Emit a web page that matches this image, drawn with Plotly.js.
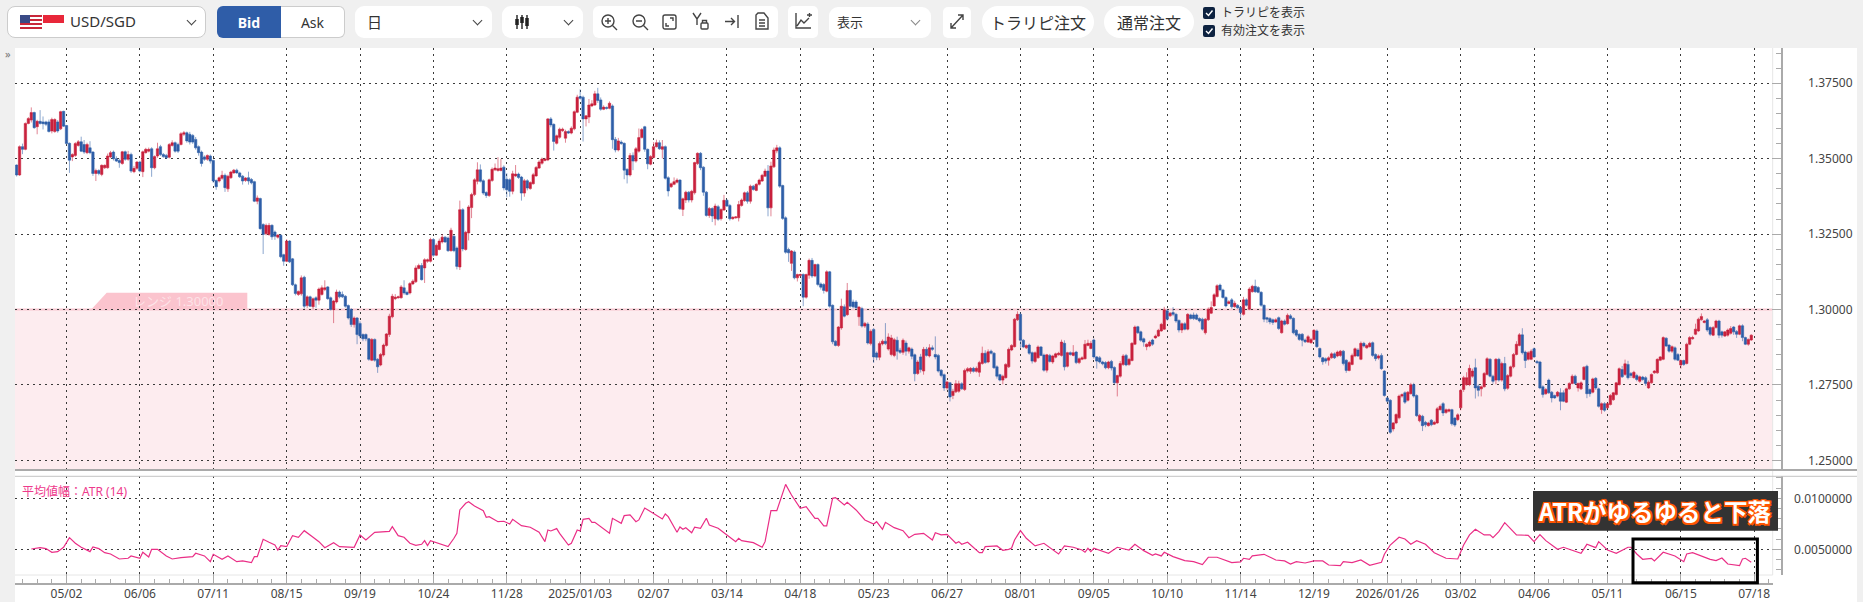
<!DOCTYPE html>
<html><head><meta charset="utf-8">
<script src="https://cdn.plot.ly/plotly-3.0.1.min.js"></script>
<style>
html,body{margin:0;padding:0;width:1863px;height:602px;overflow:hidden;background:#f0f0f0;font-family:"Noto Sans","Noto Sans CJK JP",sans-serif;color:#333}
#sheet{position:absolute;left:15px;top:48px;width:1842px;height:554px;background:#fff}
#chart{position:absolute;left:0;top:0;width:1863px;height:602px}
.b{position:absolute;background:#fff;box-sizing:border-box;display:flex;align-items:center;justify-content:center;white-space:nowrap}
.t{position:absolute;white-space:nowrap;line-height:1}
.chev{position:absolute;width:6px;height:6px;border-right:1.5px solid #444;border-bottom:1.5px solid #444;transform:rotate(45deg)}
svg.i{position:absolute;fill:none;stroke:#444;stroke-width:1.4}
.cb{position:absolute;width:12px;height:12px;background:#0d2240;border-radius:2px}
</style></head><body>
<div id="sheet"></div>
<div id="chart"></div>
<div class="t" style="left:5px;top:48px;font-size:11px;color:#777">»</div>

<div class="b" style="left:7px;top:6px;width:199px;height:32px;border:1px solid #ccc;border-radius:8px"></div>
<svg style="position:absolute;left:20px;top:15px" width="45" height="15">
 <rect x="0" y="0" width="22" height="14" fill="#fff"/>
 <g fill="#c8273a"><rect y="0" width="22" height="2"/><rect y="4" width="22" height="2"/><rect y="8" width="22" height="2"/><rect y="12" width="22" height="2"/></g>
 <rect x="0" y="0" width="10" height="8" fill="#3a4a86"/>
 <rect x="23" y="0" width="21" height="8" fill="#e8273a"/><rect x="23" y="8" width="21" height="0" fill="#fff"/>
</svg>
<div class="t" style="left:70px;top:14px;font-size:15px">USD/SGD</div>
<div class="chev" style="left:188px;top:17px"></div>

<div class="b" style="left:217px;top:6px;width:64px;height:32px;background:#2f5da8;color:#fff;font-weight:700;font-size:14px;border-radius:6px 0 0 6px">Bid</div>
<div class="b" style="left:281px;top:6px;width:64px;height:32px;border:1px solid #ccc;border-left:none;font-size:14px;border-radius:0 6px 6px 0">Ask</div>

<div class="b" style="left:355px;top:6px;width:137px;height:32px;border-radius:9px"></div>
<div class="t" style="left:367px;top:14px;font-size:15px;font-family:'Noto Sans CJK JP'">日</div>
<div class="chev" style="left:474px;top:17px"></div>

<div class="b" style="left:502px;top:6px;width:81px;height:32px;border-radius:9px"></div>
<svg class="i" style="left:514px;top:14px" width="16" height="16"><path d="M3 1V15M8 1V15M13 1V15" stroke="#222"/><path d="M3 5V11M8 3V9M13 4V12" stroke="#222" stroke-width="3.5"/></svg>
<div class="chev" style="left:565px;top:17px"></div>

<div class="b" style="left:593px;top:6px;width:185px;height:32px;border-radius:6px"></div>
<svg class="i" style="left:600px;top:13px" width="18" height="18"><circle cx="8" cy="8" r="6"/><path d="M12.5 12.5L17 17M5 8H11M8 5V11"/></svg>
<svg class="i" style="left:631px;top:13px" width="18" height="18"><circle cx="8" cy="8" r="6"/><path d="M12.5 12.5L17 17M5 8H11"/></svg>
<svg class="i" style="left:662px;top:13px" width="16" height="18"><rect x="1" y="2" width="13" height="14" rx="2"/><path d="M4 10V13H7M11 8V5H8"/></svg>
<svg class="i" style="left:692px;top:12px" width="18" height="19"><path d="M1 1L5 7L9 1M5 7V13"/><rect x="9" y="11" width="7" height="6" rx="1"/><path d="M10.5 11V8.5H14.5V11"/></svg>
<svg class="i" style="left:724px;top:14px" width="16" height="15"><path d="M1 7.5H10M7 4L10.5 7.5L7 11M14 1V14"/></svg>
<svg class="i" style="left:755px;top:12px" width="15" height="19"><path d="M1 3V17H13V6L9 1H3ZM4 8H10M4 11H10M4 14H10"/></svg>

<div class="b" style="left:788px;top:6px;width:30px;height:32px;border-radius:5px"></div>
<svg class="i" style="left:794px;top:12px" width="19" height="18"><path d="M2 1V16H17M3 14L7 8L10 11L15 6M13 3H18M15.5 1V5"/></svg>

<div class="b" style="left:829px;top:7px;width:102px;height:31px;border-radius:9px"></div>
<div class="t" style="left:837px;top:15px;font-size:13px;font-family:'Noto Sans CJK JP'">表示</div>
<div class="chev" style="left:912px;top:17px;border-color:#888"></div>

<div class="b" style="left:943px;top:7px;width:28px;height:31px;border-radius:5px"></div>
<svg class="i" style="left:949px;top:13px" width="16" height="17"><path d="M2 15L14 2M9 2H14V7M2 10V15H7"/></svg>

<div class="b" style="left:982px;top:6px;width:112px;height:32px;border-radius:16px;font-size:16px;font-family:'Noto Sans CJK JP'">トラリピ注文</div>
<div class="b" style="left:1104px;top:6px;width:90px;height:32px;border-radius:16px;font-size:16px;font-family:'Noto Sans CJK JP'">通常注文</div>

<div class="cb" style="left:1203px;top:7px"></div>
<svg style="position:absolute;left:1203px;top:7px" width="12" height="12"><path d="M3 6L5.5 8.5L9.5 3.5" fill="none" stroke="#fff" stroke-width="1.4"/></svg>
<div class="t" style="left:1221px;top:6px;font-size:12px;font-family:'Noto Sans CJK JP'">トラリピを表示</div>
<div class="cb" style="left:1203px;top:25px"></div>
<svg style="position:absolute;left:1203px;top:25px" width="12" height="12"><path d="M3 6L5.5 8.5L9.5 3.5" fill="none" stroke="#fff" stroke-width="1.4"/></svg>
<div class="t" style="left:1221px;top:24px;font-size:12px;font-family:'Noto Sans CJK JP'">有効注文を表示</div>

<script>
// Daily USD/SGD, values in pips (price x 10000). r = up candle, b = down candle.
const candleDirection =
 "brbrrrbrbb"+"bbrrbrbbbr"+"rrbbrbbrbr"+"rrrbbbrbrb"+"rrbrrrbrrb"+"bbrrbbrrbb"+"bbbbbrbbbr"+"rbrrrbbbrb"+"bbrbbrrbbr"+"bbrbbbrrbr"+
 "brbrrrbbrr"+"bbbbbrbbbb"+"brbbrrrrrr"+"rrbbrrrrbr"+"rrbrrrbbrb"+"brbrrrrrbb"+"brrrrrbbbr"+"rbbrbrrrrr"+"rrbbrrrrbr"+"rrbbrrrrbb"+
 "rbrbbrbbbr"+"brrrbbrrrb"+"rbbrrrbrrb"+"rrrbbbrbrb"+"rrbbrrrrrb"+"rbrrrrbrrr"+"bbbbrbrrbr"+"rbrbbbrbbb"+"rrbrbbbrbr"+"brbbrrbrrr"+
 "bbrbrbbrbr"+"brbbbbbrbr"+"rrbrrrbrrr"+"brbbbbrrrr"+"rrbbrbbrrb"+"brbrrrrbrb"+"rbrrrrrbbb"+"bbrbbrrrbr"+"rrbbbrrbrr"+"rrbrbbbrbr"+
 "bbbbbrrrrr"+"bbbrbrbbrb"+"rrbbbbbbbr"+"brbrbbbbbb"+"rrrbbbbrrb"+"rrbbrrrbrb"+"rrbbrbbbbr"+"rrrbrrbbrb"+"brbrrrbrrb"+"brrrrrrbbr"+
 "rrbbrbrbrr"+"rrrbbrrbbb"+"brbbbrbbrr"+"rbrrrbbrbb"+"rbrrrrrbrb"+"brbrbbrrrr"+"rrbbrbbrbr"+"rrrrrrbbrr"+"bbrrrbbrbb"+"rr";

const bodyTop = [
13479,13540,13540,13617,13633,13653,13653,13624,13624,13622,
13622,13622,13630,13630,13622,13656,13657,13610,13551,13514,
13550,13556,13556,13547,13547,13536,13522,13461,13461,13478,
13478,13509,13520,13522,13500,13494,13523,13523,13514,13514,
13468,13489,13489,13523,13531,13531,13533,13507,13533,13540,
13514,13511,13547,13553,13553,13547,13583,13586,13586,13581,
13577,13564,13540,13522,13506,13511,13509,13494,13428,13437,
13445,13445,13442,13456,13462,13462,13453,13442,13436,13437,
13431,13424,13370,13368,13282,13279,13279,13279,13257,13247,
13246,13182,13227,13227,13168,13082,13060,13105,13107,13042,
13042,13036,13039,13068,13072,13072,13075,13039,13028,13058,
13058,13050,13044,13013,13000,12972,12972,12954,12917,12917,
12903,12901,12901,12835,12851,12882,12919,12978,13044,13041,
13042,13075,13072,13057,13086,13094,13138,13146,13146,13165,
13165,13232,13232,13213,13227,13240,13240,13237,13263,13243,
13204,13331,13331,13256,13340,13381,13430,13463,13463,13427,
13388,13430,13465,13469,13467,13469,13472,13432,13430,13450,
13449,13449,13439,13427,13427,13421,13447,13471,13489,13499,
13499,13632,13632,13614,13576,13598,13598,13590,13590,13601,
13656,13704,13706,13704,13642,13678,13682,13715,13715,13695,
13671,13670,13684,13675,13564,13559,13555,13551,13465,13511,
13511,13533,13570,13597,13606,13531,13507,13540,13553,13553,
13540,13540,13437,13417,13424,13429,13429,13367,13389,13389,
13392,13487,13518,13518,13472,13389,13335,13335,13343,13341,
13332,13362,13362,13345,13306,13307,13348,13363,13387,13387,
13409,13409,13415,13429,13445,13459,13459,13476,13529,13536,
13536,13411,13304,13199,13194,13191,13116,13116,13116,13116,
13163,13163,13149,13149,13085,13083,13125,13125,13014,12895,
12942,13011,13009,13063,13063,13025,13025,13008,13003,12954,
12952,12928,12934,12856,12887,12895,12895,12909,12906,12900,
12898,12865,12898,12889,12873,12869,12850,12826,12843,12868,
12868,12873,12873,12851,12848,12799,12784,12760,12757,12729,
12754,12754,12754,12798,12804,12805,12805,12805,12824,12855,
12855,12860,12862,12855,12810,12784,12779,12818,12868,12881,
12968,12984,12984,12898,12881,12882,12857,12857,12876,12876,
12849,12850,12848,12846,12853,12855,12892,12888,12857,12857,
12857,12859,12837,12840,12885,12888,12888,12899,12843,12840,
12826,12824,12826,12828,12808,12781,12821,12846,12848,12835,
12888,12942,12943,12926,12903,12885,12892,12899,12912,12931,
12951,12999,12996,12988,12990,12984,12964,12953,12953,12984,
12982,12982,12982,12970,12968,12968,13001,13007,13049,13079,
13081,13065,13040,13026,13032,13021,13014,13007,13032,13032,
13068,13077,13077,13073,13057,13014,12973,12970,12966,12966,
12973,12962,12962,12981,12979,12971,12931,12918,12918,12899,
12910,12901,12931,12929,12871,12840,12837,12840,12853,12853,
12859,12862,12862,12832,12824,12848,12870,12866,12888,12888,
12881,12888,12890,12851,12846,12848,12796,12707,12699,12624,
12652,12713,12718,12724,12726,12751,12751,12715,12649,12646,
12626,12624,12633,12626,12671,12679,12688,12668,12668,12668,
12640,12651,12732,12774,12774,12805,12796,12807,12746,12744,
12788,12837,12835,12779,12835,12835,12821,12821,12781,12810,
12851,12885,12916,12916,12859,12857,12862,12870,12828,12826,
12744,12735,12766,12726,12715,12726,12724,12724,12737,12755,
12779,12779,12755,12757,12809,12812,12735,12770,12772,12737,
12688,12688,12688,12715,12724,12757,12804,12801,12820,12818,
12788,12792,12781,12777,12776,12774,12759,12785,12796,12835,
12843,12907,12905,12882,12877,12873,12851,12831,12831,12885,
12907,12907,12935,12968,12977,12962,12966,12940,12940,12962,
12962,12926,12926,12932,12937,12942,12927,12946,12946,12907,
12901,12915];

const bodyBottom = [
13446,13446,13531,13531,13617,13628,13603,13606,13617,13616,
13614,13590,13592,13590,13592,13599,13608,13550,13495,13506,
13511,13544,13525,13522,13520,13520,13451,13451,13451,13448,
13470,13470,13506,13500,13492,13487,13484,13498,13498,13459,
13457,13468,13459,13457,13520,13525,13470,13470,13509,13514,
13507,13503,13505,13544,13525,13525,13547,13581,13559,13555,
13555,13536,13520,13484,13498,13498,13492,13426,13407,13426,
13435,13404,13400,13437,13453,13453,13440,13426,13428,13426,
13420,13359,13359,13268,13249,13251,13249,13241,13243,13240,
13175,13160,13160,13158,13082,13053,13050,13052,13011,13013,
13011,13009,13031,13031,13050,13066,13036,13000,13000,13025,
13042,13042,13011,12972,12950,12950,12917,12912,12903,12903,
12835,12832,12832,12810,12816,12849,12881,12917,12976,13036,
13039,13039,13055,13050,13055,13085,13092,13136,13099,13138,
13160,13160,13180,13180,13199,13224,13224,13195,13195,13195,
13143,13141,13201,13199,13254,13338,13381,13425,13425,13386,
13378,13378,13428,13463,13461,13461,13403,13397,13392,13392,
13443,13438,13386,13386,13403,13401,13417,13443,13469,13485,
13494,13496,13612,13557,13551,13571,13593,13568,13585,13585,
13599,13654,13700,13632,13632,13638,13675,13678,13693,13664,
13664,13667,13667,13563,13529,13529,13550,13462,13446,13446,
13492,13492,13525,13570,13531,13483,13482,13504,13540,13533,
13531,13435,13393,13407,13415,13422,13334,13332,13363,13363,
13363,13387,13484,13470,13389,13312,13312,13310,13301,13299,
13301,13330,13343,13301,13301,13304,13304,13345,13361,13359,
13359,13398,13395,13415,13426,13442,13337,13337,13473,13526,
13409,13302,13190,13188,13153,13105,13105,13113,13041,13041,
13114,13111,13111,13083,13074,13063,13061,13011,12893,12881,
12881,12939,12978,12983,13011,13009,13006,12976,12945,12945,
12889,12887,12843,12842,12842,12886,12887,12869,12851,12848,
12862,12858,12858,12862,12862,12845,12787,12788,12801,12796,
12848,12846,12868,12843,12796,12781,12740,12740,12710,12715,
12727,12729,12737,12735,12796,12795,12795,12795,12792,12821,
12824,12826,12855,12807,12779,12766,12766,12774,12810,12866,
12877,12966,12898,12876,12873,12855,12829,12828,12840,12848,
12799,12799,12828,12826,12842,12850,12848,12810,12812,12851,
12848,12824,12824,12835,12837,12881,12871,12843,12829,12826,
12820,12807,12807,12806,12757,12757,12779,12818,12816,12818,
12831,12885,12923,12898,12892,12877,12879,12885,12906,12912,
12929,12935,12968,12979,12984,12962,12932,12932,12935,12935,
12970,12970,12968,12962,12935,12923,12966,12988,13012,13043,
13065,13040,13012,13020,13009,13009,13006,12990,12984,13014,
13001,13059,13059,13057,13014,12968,12968,12959,12957,12959,
12937,12923,12951,12953,12970,12923,12915,12901,12898,12893,
12892,12890,12901,12877,12843,12827,12829,12832,12840,12840,
12846,12848,12821,12798,12798,12818,12846,12846,12835,12879,
12873,12877,12848,12837,12839,12804,12715,12696,12593,12604,
12624,12641,12713,12693,12699,12721,12713,12648,12631,12615,
12618,12615,12618,12620,12624,12668,12657,12659,12663,12621,
12617,12635,12674,12735,12751,12751,12779,12740,12732,12737,
12744,12785,12779,12762,12766,12766,12766,12737,12739,12779,
12810,12851,12881,12857,12831,12835,12835,12843,12824,12740,
12718,12721,12724,12707,12707,12713,12696,12696,12693,12737,
12755,12755,12740,12737,12768,12721,12721,12726,12740,12679,
12668,12666,12674,12685,12701,12718,12751,12777,12785,12774,
12781,12774,12768,12762,12768,12755,12740,12757,12790,12790,
12832,12835,12879,12862,12862,12835,12832,12816,12818,12821,
12885,12903,12918,12929,12966,12957,12932,12918,12915,12940,
12915,12915,12912,12915,12921,12926,12918,12918,12907,12885,
12885,12899];

const upperWick = [
2,4,10,3,5,17,3,5,37,18,
4,8,6,4,6,3,2,2,3,4,
5,6,17,15,6,22,3,6,4,3,
3,8,6,5,8,6,3,4,12,6,
8,3,4,4,5,6,5,4,20,6,
5,5,5,8,4,6,5,6,4,8,
5,8,4,5,5,3,5,3,3,4,
15,6,5,4,4,5,4,4,3,20,
5,3,8,3,4,6,8,4,5,3,
4,3,6,3,3,4,3,8,5,5,
4,4,5,5,8,25,3,4,4,8,
5,10,4,4,5,5,3,7,4,4,
3,4,3,4,5,5,3,8,8,10,
4,6,25,6,5,6,8,6,8,5,
4,6,5,6,8,10,3,5,8,5,
5,30,5,5,6,6,5,25,18,5,
4,4,6,15,38,30,6,20,5,10,
30,5,4,6,5,4,6,5,6,5,
4,3,6,3,4,5,5,6,4,6,
4,8,24,5,3,20,12,10,20,8,
6,3,6,5,8,10,6,3,3,8,
10,6,30,5,3,3,5,15,10,8,
22,4,5,4,14,6,3,4,5,4,
5,3,3,4,3,4,5,4,8,6,
3,18,4,5,3,3,12,5,4,6,
5,4,4,5,5,8,20,14,8,10,
5,3,5,6,3,5,3,3,4,3,
6,8,3,4,5,5,5,3,3,3,
3,25,8,25,3,8,6,4,6,5,
6,6,5,5,7,6,60,12,10,6,
12,8,6,8,4,5,4,6,10,8,
8,12,8,60,5,3,4,4,3,8,
12,10,5,6,5,4,5,6,6,22,
10,8,5,4,5,3,5,4,6,4,
4,10,6,4,3,5,4,4,5,3,
5,3,5,4,4,5,8,10,3,4,
25,4,4,5,14,12,8,5,3,6,
4,5,4,5,4,3,8,6,5,5,
4,5,3,4,4,3,5,4,5,5,
5,10,5,4,18,5,3,4,5,4,
4,8,5,4,5,4,6,20,5,5,
5,4,4,5,6,8,4,4,10,5,
6,5,22,5,4,3,3,5,4,5,
4,4,5,6,6,3,4,3,4,5,
6,5,4,5,3,3,4,5,5,5,
5,4,4,3,5,6,4,6,6,5,
4,5,4,4,5,7,3,3,4,3,
4,5,4,5,4,6,6,4,5,5,
5,4,4,5,6,6,5,4,4,3,
4,5,5,6,18,12,8,30,6,4,
5,5,4,5,4,5,6,22,5,4,
5,10,6,22,5,5,6,4,4,4,
5,5,5,4,3,4,15,8,4,4,
6,5,3,5,3,5,3,4,4,4,
4,5,3,5,3,3,4,12,14,12,
5,5,6,4,4,5,6,3,3,3,
3,4,3,4,4,5,5,3,3,5,
5,6,18,5,10,3,6,4,5,4,
4,4,3,5,8,3,5,4,5,3,
3,3];

const lowerWick = [
5,3,16,3,3,8,4,25,4,19,
6,3,8,4,6,4,3,3,42,14,
5,4,3,6,5,5,8,25,6,6,
4,3,4,6,3,17,4,5,5,6,
5,5,4,18,3,4,30,5,6,5,
4,4,4,4,5,6,3,6,6,8,
6,6,10,10,5,5,8,6,10,5,
5,14,10,4,3,3,4,12,5,12,
5,3,10,3,65,5,5,10,12,5,
5,15,3,4,4,6,5,6,8,8,
3,8,25,15,4,5,4,3,45,5,
5,4,5,5,8,10,32,8,8,8,
5,3,5,20,4,5,4,8,5,5,
3,3,6,3,5,4,4,3,3,50,
5,4,5,3,3,5,3,4,3,5,
10,10,8,4,25,35,5,10,4,6,
8,5,5,4,4,3,8,25,18,10,
4,5,25,12,8,4,3,3,3,5,
3,4,8,30,4,5,4,15,3,4,
5,3,4,75,25,20,4,3,8,5,
3,4,3,30,8,5,4,30,28,5,
30,5,5,3,8,18,4,3,3,4,
30,4,18,4,3,4,4,22,10,8,
8,6,5,8,12,4,8,20,22,5,
6,3,3,6,3,3,12,4,4,8,
8,4,3,4,3,3,28,28,4,8,
6,5,5,30,25,5,12,5,30,5,
12,6,4,6,8,10,4,5,8,3,
5,6,4,4,5,5,5,30,5,6,
5,6,20,10,10,5,5,5,6,6,
28,5,8,15,8,10,25,5,10,12,
4,5,5,8,5,6,10,6,15,12,
4,5,3,5,5,8,4,4,15,4,
4,4,4,4,8,4,14,3,4,4,
3,4,25,4,4,5,8,5,3,3,
5,8,4,6,4,3,4,12,4,4,
3,5,5,3,3,3,3,6,25,5,
5,5,5,8,5,45,5,5,4,5,
3,3,4,5,15,12,4,5,3,3,
3,3,5,3,6,6,8,10,4,4,
3,5,3,5,5,6,4,3,3,3,
5,4,5,3,6,3,4,18,4,4,
3,3,4,3,5,10,12,8,8,3,
5,3,4,3,3,5,6,5,20,4,
3,3,3,4,5,10,8,18,3,4,
4,5,6,8,3,3,4,3,3,5,
3,3,5,8,5,4,4,5,5,8,
4,5,5,6,4,3,5,4,5,18,
8,3,5,3,3,3,10,5,4,6,
6,5,8,8,4,5,5,35,20,25,
3,4,4,8,14,5,5,8,5,4,
5,3,3,6,25,4,3,4,5,4,
10,4,4,15,3,4,30,3,3,3,
3,4,12,4,3,15,10,4,6,4,
14,5,3,3,4,3,3,4,5,6,
8,3,6,5,4,8,3,3,3,3,
3,3,3,5,6,5,3,12,5,3,
3,3,3,3,3,3,6,6,3,3,
10,8,3,5,4,10,12,3,12,3,
5,3];

// ATR(14): bar number and value (x 0.001)
const atrBar = [5,8,10,12,14,16,18,20,22,25,26,28,30,32,35,38,39,42,43,45,46,48,51,53,56,60,61,64,66,67,70,72,75,77,80,81,82,84,86,88,89,90,92,94,96,98,101,103,105,108,110,115,117,119,122,127,128,130,132,134,136,138,139,140,141,144,147,149,150,151,153,154,156,159,160,161,164,166,168,169,172,175,178,180,181,182,184,185,187,188,189,191,192,193,195,196,197,202,203,206,207,209,211,212,214,217,220,221,222,225,226,227,228,230,231,233,235,236,239,242,245,246,247,251,254,255,257,259,262,264,267,269,272,273,275,276,278,279,282,283,286,289,292,293,295,296,299,302,304,306,309,312,313,315,317,320,321,322,324,328,329,330,334,336,338,339,340,342,344,347,350,355,357,360,363,364,365,366,367,372,375,379,381,384,385,387,388,390,391,394,398,401,404,406,409,414,417,418,420,421,425,429,432,434,436,439,442,445,447,451,452,455,458,461,465,466,468,471,473,475,477,480,483,487,491,493,495,497,500,502,503,505,507,509,511,515,517,519,521,525,527,533,535,538,539,542,545,549,550,552,554,557,558,561,565,568,569,571,577,579,581,583,587,588,589,591];
const atrValue = [5.03,5.16,5.07,4.71,4.77,5.20,6.14,5.59,5.20,4.77,5.23,5.07,4.67,4.54,4.05,4.12,4.35,4.12,4.71,4.25,5.00,5.00,4.35,4.05,4.18,4.28,4.61,4.35,3.79,4.51,4.02,4.35,3.79,3.86,3.69,4.28,4.28,5.98,5.69,5.42,4.93,5.36,5.26,6.34,6.18,6.83,6.18,5.75,5.16,5.65,5.26,5.20,6.41,5.92,6.67,6.76,7.22,6.34,6.18,5.59,5.39,5.49,5.85,5.36,5.85,5.59,5.26,6.08,6.57,8.86,9.51,9.67,9.25,8.79,8.14,8.20,7.71,7.75,7.48,7.94,7.32,7.16,6.67,5.75,6.90,6.80,7.03,6.57,5.85,5.42,5.59,6.90,6.80,7.94,8.04,7.65,7.65,6.57,8.04,7.55,8.30,8.37,7.71,7.88,9.05,8.50,7.97,8.46,8.20,6.67,7.19,6.96,7.12,6.63,7.16,7.06,8.04,7.39,7.06,6.41,5.75,6.08,5.85,5.65,5.20,5.75,8.79,8.79,11.37,10.33,9.02,9.18,8.04,8.04,7.29,7.29,10.00,10.07,9.35,9.61,8.86,7.88,7.48,7.71,6.96,7.65,7.12,6.83,6.14,6.47,6.57,5.92,6.63,6.41,6.47,5.59,5.75,5.49,5.69,4.67,4.67,5.26,5.33,4.90,5.00,5.13,5.92,6.83,6.08,5.33,5.59,4.54,5.33,5.20,4.93,4.71,5.10,4.77,5.10,4.61,5.20,4.93,5.49,4.87,4.74,4.41,4.54,4.35,4.71,4.28,3.89,3.79,3.50,4.22,4.22,3.69,3.76,4.12,4.02,4.35,4.51,3.95,3.86,3.56,3.79,3.66,3.86,3.86,3.46,3.40,3.79,3.69,3.95,3.43,3.73,4.51,5.42,6.18,6.01,5.49,5.85,5.49,4.67,4.12,4.05,5.42,6.41,6.96,6.41,6.41,6.14,6.73,7.61,7.06,6.41,6.37,5.75,6.44,5.85,5.00,5.20,4.61,5.49,5.16,5.75,4.93,4.61,5.20,5.20,4.54,4.02,4.12,3.86,4.71,4.35,3.79,4.54,4.67,4.02,3.89,4.15,3.56,3.40,4.05,4.12,3.73];

const dateTickBars = [17,42,67,92,117,142,167,192,217,242,267,292,317,342,367,392,417,442,467,492,517,542,567,592];
const dateTickLabels = ["05/02","06/06","07/11","08/15","09/19","10/24","11/28","2025/01/03","02/07","03/14","04/18","05/23","06/27","08/01","09/05","10/10","11/14","12/19","2026/01/26","03/02","04/06","05/11","06/15","07/18"];
const rangeLevel = 1.30;
const rangeTitle = "レンジ 1.30000";
const atrTitle = "平均値幅：ATR (14)";
const noteTitle = "ATRがゆるゆると下落";

const W=1863,H=602, px=x=>x/W, py=y=>1-y/H;
const bars = bodyTop.map((_,i)=>i);
const price = v=>v/10000;
const isUp = i=>candleDirection[i]==='r';
const open  = bars.map(i=>price(isUp(i)?bodyBottom[i]:bodyTop[i]));
const close = bars.map(i=>price(isUp(i)?bodyTop[i]:bodyBottom[i]));
const high  = bars.map(i=>price(bodyTop[i]+upperWick[i]));
const low   = bars.map(i=>price(bodyBottom[i]-lowerWick[i]));

const FONT='"Noto Sans","Noto Sans CJK JP",sans-serif';
const GRID='#3a3a3a', DASH='2px,4px';
const yCommon={anchor:'free',position:px(1781.7),side:'right',showline:true,linecolor:'#aaa',linewidth:2,
  ticks:'inside',ticklen:9,tickcolor:'#aaa',tickwidth:1,showgrid:true,gridcolor:GRID,griddash:DASH,gridwidth:1,zeroline:false,
  tickfont:{family:FONT,size:12,color:'#444'},fixedrange:true};

const traces=[
 {type:'candlestick',x:bars,open,high,low,close,xaxis:'x',yaxis:'y',hoverinfo:'skip',
  increasing:{line:{color:'rgba(201,33,61,0.55)',width:1},fillcolor:'#c9213d'},
  decreasing:{line:{color:'rgba(46,94,168,0.55)',width:1},fillcolor:'#2e5ea8'},whiskerwidth:0},
 {type:'scatter',mode:'lines',x:atrBar,y:atrValue.map(v=>v/1000),xaxis:'x',yaxis:'y2',hoverinfo:'skip',
  line:{color:'#ea2e86',width:1.2}}
];

const layout={
 width:W,height:H,margin:{l:0,r:0,t:0,b:0},paper_bgcolor:'rgba(0,0,0,0)',plot_bgcolor:'rgba(0,0,0,0)',showlegend:false,
 boxgap:0.1,boxgroupgap:0.1,
 xaxis:{domain:[px(15),px(1772.7)],range:[-0.55,598.3],anchor:'free',position:py(584.3),type:'linear',
  tickmode:'array',tickvals:dateTickBars,ticktext:dateTickLabels,ticklabelstandoff:-2,
  rangeslider:{visible:false},showline:true,linecolor:'#aaa',linewidth:2,ticks:'inside',ticklen:9,tickcolor:'#aaa',tickwidth:1,
  minor:{tick0:2,dtick:5,ticks:'inside',ticklen:4,tickcolor:'#aaa',tickwidth:1,showgrid:false},
  showgrid:true,gridcolor:GRID,griddash:DASH,gridwidth:1,zeroline:false,
  tickfont:{family:FONT,size:12,color:'#444'},tickangle:0,fixedrange:true},
 yaxis:Object.assign({},yCommon,{domain:[py(470),py(48)],range:[1.2468,1.3867],tickmode:'linear',tick0:1.25,dtick:0.025,tickformat:'.5f',
  ticklabelstandoff:23,minor:{tick0:1.25,dtick:0.005,ticks:'inside',ticklen:5,tickcolor:'#aaa',tickwidth:1,showgrid:false}}),
 yaxis2:Object.assign({},yCommon,{domain:[py(575),py(476)],range:[0.00248,0.01219],tickmode:'array',tickvals:[0.005,0.01],tickformat:'.7f',
  ticklabelstandoff:9,minor:{tick0:0,dtick:0.001,ticks:'inside',ticklen:5,tickcolor:'#aaa',tickwidth:1,showgrid:false}}),
 shapes:[
  {type:'rect',layer:'below',xref:'paper',yref:'y',x0:px(15),x1:px(1772.7),y0:1.2468,y1:rangeLevel,fillcolor:'#fdecef',line:{width:0}},
  {type:'line',layer:'below',xref:'paper',yref:'y',x0:px(15),x1:px(1772.7),y0:rangeLevel,y1:rangeLevel,line:{color:'#f8c6d0',width:2}},
  {type:'path',layer:'below',xref:'paper',yref:'paper',fillcolor:'#fbc4ce',line:{width:0},
   path:`M ${px(91.7)} ${py(309)} L ${px(106.7)} ${py(292.7)} L ${px(247.3)} ${py(292.7)} L ${px(247.3)} ${py(309)} Z`},
  {type:'line',layer:'above',xref:'paper',yref:'paper',x0:px(15),x1:px(1857),y0:py(470),y1:py(470),line:{color:'#aaa',width:2}},
  {type:'line',layer:'above',xref:'paper',yref:'paper',x0:px(15),x1:px(1857),y0:py(476.3),y1:py(476.3),line:{color:'#c4c4c4',width:1}},
  {type:'line',layer:'below',xref:'paper',yref:'paper',x0:px(15),x1:px(1772.7),y0:py(575),y1:py(575),line:{color:'#e6e6e6',width:1}},
  {type:'line',layer:'below',xref:'paper',yref:'paper',x0:px(1772.7),x1:px(1772.7),y0:py(575),y1:py(48),line:{color:'#e6e6e6',width:1}},
  {type:'rect',layer:'above',xref:'paper',yref:'paper',x0:px(1533),x1:px(1778),y0:py(530.7),y1:py(491),fillcolor:'#333',line:{width:0}},
  {type:'rect',layer:'above',xref:'paper',yref:'paper',x0:px(1633),x1:px(1757.4),y0:py(582.7),y1:py(539),fillcolor:'rgba(0,0,0,0)',line:{color:'#000',width:3}}
 ],
 annotations:[
  {xref:'paper',yref:'paper',x:px(178),y:py(300.8),text:rangeTitle,showarrow:false,xanchor:'center',yanchor:'middle',
   font:{family:FONT,size:13,color:'rgba(255,255,255,0.55)'}},
  {xref:'paper',yref:'paper',x:px(20),y:py(491.5),text:atrTitle,showarrow:false,xanchor:'left',yanchor:'middle',
   font:{family:FONT,size:12,color:'#ee3a8c'}},
  {xref:'paper',yref:'paper',x:px(1654),y:py(510.5),text:'<b>'+noteTitle+'</b>',showarrow:false,xanchor:'center',yanchor:'middle',
   font:{family:'"Noto Sans CJK JP",sans-serif',size:23.5,color:'#fff',
    shadow:'1px 0 0 #f50,-1px 0 0 #f50,0 1px 0 #f50,0 -1px 0 #f50,1.5px 1.5px 0 #f50,-1.5px -1.5px 0 #f50,1.5px -1.5px 0 #f50,-1.5px 1.5px 0 #f50'}}
 ]
};
Plotly.newPlot('chart',traces,layout,{displayModeBar:false,staticPlot:true});
</script>
</body></html>
